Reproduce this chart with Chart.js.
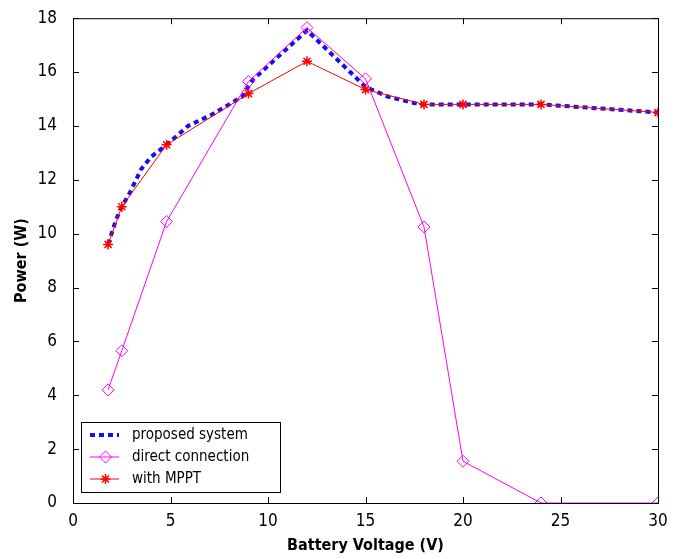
<!DOCTYPE html>
<html>
<head>
<meta charset="utf-8">
<script src="https://cdn.jsdelivr.net/npm/chart.js@4.4.0/dist/chart.umd.min.js"></script>
<style>
  html, body { margin: 0; padding: 0; background: #fff; }
  #wrap { width: 681px; height: 559px; }
</style>
</head>
<body>
<div id="wrap"><canvas id="chart"></canvas></div>
<script>
// values
const stepVolts = [1.8, 2.5, 4.8, 9, 12, 15, 18, 20, 24, 30];
const mpptPower = [9.6, 11.0, 13.3, 15.2, 16.4, 15.35, 14.8, 14.8, 14.8, 14.5];
const directPower = [4.2, 5.65, 10.45, 15.65, 17.65, 15.75, 10.25, 1.55, 0, 0];
const proposedVolts = [1.8, 2.2, 2.5, 2.9, 3.5, 4.0, 4.8, 5.9, 7.2, 8.7, 9.2, 12, 15, 16.1, 17.2, 17.8, 24, 27, 30];
const proposedPower = [9.6, 10.5, 11.0, 11.5, 12.4, 12.85, 13.3, 14.0, 14.45, 15.1, 15.7, 17.55, 15.45, 15.1, 14.9, 14.8, 14.8, 14.65, 14.5];
const xTicks = [0, 5, 10, 15, 20, 25, 30];
const yTicks = [0, 2, 4, 6, 8, 10, 12, 14, 16, 18];
const seriesNames = ["proposed system", "direct connection", "with MPPT"];

const FONT = "'Liberation Sans Narrow', 'DejaVu Sans Condensed', 'Liberation Sans', sans-serif";
const BLUE = "#1010f0", MAGENTA = "#ff00ff", RED = "#ff0000";

function pairs(xs, ys) {
  return xs.map((x, i) => ({ x: x, y: ys[i] }));
}

// matlab style box with inward ticks on all four sides
const boxPlugin = {
  id: "box",
  afterDraw(chart) {
    const c = chart.ctx, a = chart.chartArea;
    const sx = chart.scales.x, sy = chart.scales.y;
    c.save();
    c.strokeStyle = "#000";
    c.lineWidth = 1;
    c.strokeRect(a.left + 0.5, a.top + 0.5, a.right - a.left, a.bottom - a.top);
    c.beginPath();
    xTicks.forEach(v => {
      const px = Math.round(sx.getPixelForValue(v)) + 0.5;
      c.moveTo(px, a.bottom); c.lineTo(px, a.bottom - 6);
      c.moveTo(px, a.top); c.lineTo(px, a.top + 6);
    });
    yTicks.forEach(v => {
      const py = Math.round(sy.getPixelForValue(v)) + 0.5;
      c.moveTo(a.left, py); c.lineTo(a.left + 6, py);
      c.moveTo(a.right, py); c.lineTo(a.right - 6, py);
    });
    c.stroke();
    c.restore();
  }
};

// legend box in the lower left corner of the plot
const legendPlugin = {
  id: "boxLegend",
  afterDraw(chart) {
    const c = chart.ctx, a = chart.chartArea;
    const lx = a.left + 8, ly = a.bottom - 81, lw = 199, lh = 70;
    c.save();
    c.fillStyle = "#fff";
    c.fillRect(lx, ly, lw, lh);
    c.strokeStyle = "#000";
    c.lineWidth = 1;
    c.strokeRect(lx + 0.5, ly + 0.5, lw, lh);
    c.font = "15px " + FONT;
    c.textBaseline = "middle";
    seriesNames.forEach((name, i) => {
      const yy = ly + 13 + i * 22;
      const ds = chart.data.datasets[i];
      const x0 = lx + 9, x1 = lx + 38;
      c.save();
      c.strokeStyle = ds.borderColor;
      c.lineWidth = ds.borderWidth;
      c.setLineDash(ds.borderDash || []);
      c.beginPath();
      c.moveTo(x0, yy); c.lineTo(x1, yy);
      c.stroke();
      c.restore();
      if (ds.pointRadius > 0) {
        c.save();
        c.strokeStyle = ds.pointBorderColor;
        c.fillStyle = "rgba(0,0,0,0)";
        c.lineWidth = ds.pointBorderWidth;
        Chart.helpers.drawPoint(c, {
          pointStyle: ds.pointStyle,
          radius: ds.pointRadius,
          borderWidth: ds.pointBorderWidth,
          rotation: 0
        }, (x0 + x1) / 2 + 1, yy);
        c.restore();
      }
      c.fillStyle = "#000";
      c.fillText(name, lx + 51, yy);
    });
    c.restore();
  }
};

Chart.defaults.font.family = FONT;

new Chart(document.getElementById("chart"), {
  type: "line",
  data: {
    datasets: [
      {
        label: seriesNames[0],
        data: pairs(proposedVolts, proposedPower),
        borderColor: BLUE,
        borderWidth: 4,
        borderDash: [5, 4],
        borderCapStyle: "butt",
        pointRadius: 0,
        tension: 0,
        order: 3,
      },
      {
        label: seriesNames[1],
        data: pairs(stepVolts, directPower),
        borderColor: MAGENTA,
        borderWidth: 1,
        pointStyle: "rectRot",
        pointRadius: 6,
        pointBorderColor: MAGENTA,
        pointBackgroundColor: "rgba(0,0,0,0)",
        pointBorderWidth: 1,
        tension: 0,
        order: 2,
      },
      {
        label: seriesNames[2],
        data: pairs(stepVolts, mpptPower),
        borderColor: RED,
        borderWidth: 1,
        pointStyle: "star",
        pointRadius: 5,
        pointBorderColor: RED,
        pointBorderWidth: 1.5,
        tension: 0,
        order: 1,
      },
    ],
  },
  options: {
    responsive: true,
    maintainAspectRatio: false,
    animation: false,
    layout: {
      padding: { top: 11, right: 23, left: 0, bottom: 0 },
    },
    plugins: {
      legend: { display: false },
      tooltip: { enabled: false },
    },
    scales: {
      x: {
        type: "linear",
        min: 0,
        max: 30,
        afterFit(scale) { scale.height = 56; },
        afterBuildTicks(scale) { scale.ticks = xTicks.map(v => ({ value: v })); },
        grid: { display: false },
        border: { display: false },
        ticks: {
          color: "#000",
          padding: 0,
          font: { size: 17 },
        },
        title: {
          display: true,
          text: "Battery Voltage (V)",
          color: "#000",
          font: { size: 16, weight: "bold" },
          padding: { top: 4, bottom: 4 },
        },
      },
      y: {
        min: 0,
        max: 18,
        afterFit(scale) { scale.width = 73; },
        afterBuildTicks(scale) { scale.ticks = yTicks.map(v => ({ value: v })); },
        grid: { display: false },
        border: { display: false },
        ticks: {
          color: "#000",
          padding: 8,
          font: { size: 17 },
        },
        title: {
          display: true,
          text: "Power (W)",
          color: "#000",
          font: { size: 16, weight: "bold" },
          padding: { top: 12, bottom: 0 },
        },
      },
    },
  },
  plugins: [boxPlugin, legendPlugin],
});
</script>
</body>
</html>
